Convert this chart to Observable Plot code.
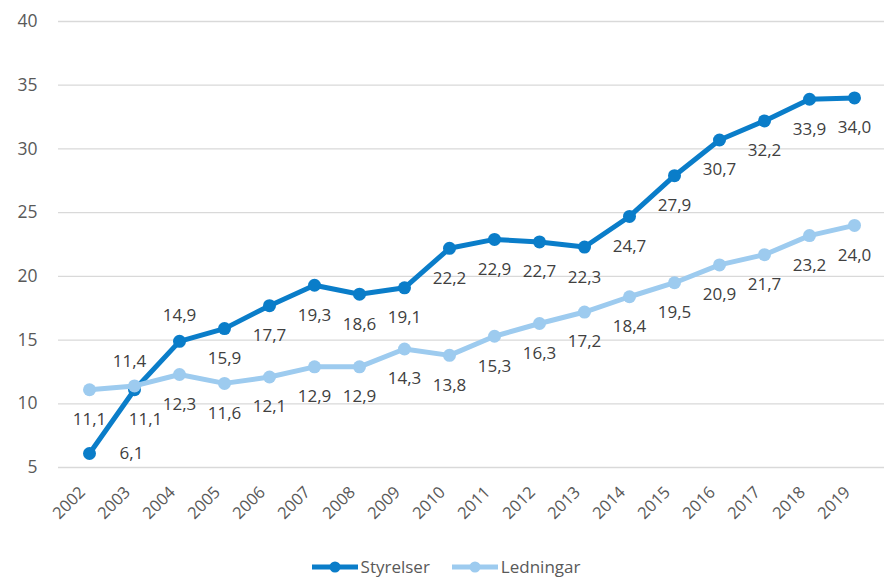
<!DOCTYPE html>
<html>
<head>
<meta charset="utf-8">
<script src="https://cdn.jsdelivr.net/npm/d3@7"></script>
<script src="https://cdn.jsdelivr.net/npm/@observablehq/plot@0.6"></script>
<style>
  html, body { margin: 0; padding: 0; background: #fff; }
  body { width: 884px; font-family: "Open Sans", sans-serif; }
  #chart svg { display: block; }
  #legend { display: flex; justify-content: center; align-items: center; gap: 22px; height: 20px; margin-top: 12px; font-size: 17px; line-height: 20px; color: #595959; padding-left: 8px; }
  #legend .item { display: flex; align-items: center; gap: 3px; }
  #legend svg { display: block; }
</style>
</head>
<body>
<div id="chart"></div>
<div id="legend"></div>
<script>
const years = [2002, 2003, 2004, 2005, 2006, 2007, 2008, 2009, 2010, 2011, 2012, 2013, 2014, 2015, 2016, 2017, 2018, 2019];
const styrelser = [6.1, 11.1, 14.9, 15.9, 17.7, 19.3, 18.6, 19.1, 22.2, 22.9, 22.7, 22.3, 24.7, 27.9, 30.7, 32.2, 33.9, 34.0];
const ledningar = [11.1, 11.4, 12.3, 11.6, 12.1, 12.9, 12.9, 14.3, 13.8, 15.3, 16.3, 17.2, 18.4, 19.5, 20.9, 21.7, 23.2, 24.0];
const seriesNames = ["Styrelser", "Ledningar"];
const seriesColors = ["#0a7dc9", "#9dcbef"];
const yTicks = [5, 10, 15, 20, 25, 30, 35, 40];

const rows = (name, vals) => years.map((y, i) => ({series: name, year: String(y), value: vals[i]}));
const sData = rows("Styrelser", styrelser);
const lData = rows("Ledningar", ledningar);
const all = sData.concat(lData);

const fmt = v => d3.format(".1f")(v).replace(".", ",");
const key = d => d.series + " " + d.year;
const special = new Set(["Ledningar 2003", "Styrelser 2004", "Styrelser 2002", "Styrelser 2003"]);

const colorOpts = {domain: seriesNames, range: seriesColors};
const labelFont = {fontSize: 17, fill: "#404040", text: d => fmt(d.value)};

const plot = Plot.plot({
  width: 884,
  height: 545,
  marginTop: 21,
  marginBottom: 78,
  marginLeft: 58,
  marginRight: 0,
  style: {fontFamily: "'Open Sans', sans-serif", color: "#595959", background: "#fff"},
  x: {type: "point", domain: years.map(String), padding: 0.5, label: null},
  y: {domain: [5, 40], label: null},
  color: colorOpts,
  marks: [
    Plot.ruleY(yTicks, {stroke: "#d9d9d9", strokeWidth: 1.3}),
    Plot.axisY({ticks: yTicks, tickSize: 0, tickPadding: 21, fontSize: 17.5, label: null}),
    Plot.axisX({tickSize: 0, tickRotate: -45, tickPadding: 12, dx: -7, dy: 10, fontSize: 16.5, label: null}),
    Plot.line(sData, {x: "year", y: "value", stroke: "series", strokeWidth: 5}),
    Plot.dot(sData, {x: "year", y: "value", fill: "series", r: 6.5}),
    Plot.line(lData, {x: "year", y: "value", stroke: "series", strokeWidth: 5}),
    Plot.dot(lData, {x: "year", y: "value", fill: "series", r: 6.5}),
    Plot.text(all.filter(d => !special.has(key(d))), {x: "year", y: "value", dy: 30, ...labelFont}),
    Plot.text(all.filter(d => key(d) === "Ledningar 2003"), {x: "year", y: "value", dx: -5, dy: -24, ...labelFont}),
    Plot.text(all.filter(d => key(d) === "Styrelser 2004"), {x: "year", y: "value", dy: -26, ...labelFont}),
    Plot.text(all.filter(d => key(d) === "Styrelser 2002"), {x: "year", y: "value", dx: 42, dy: 0, ...labelFont}),
    Plot.text(all.filter(d => key(d) === "Styrelser 2003"), {x: "year", y: "value", dx: 11, dy: 30, ...labelFont})
  ]
});
document.getElementById("chart").appendChild(plot);

const legend = document.getElementById("legend");
seriesNames.forEach((name, i) => {
  const item = document.createElement("div");
  item.className = "item";
  item.innerHTML = `<svg width="46" height="14"><line x1="0" y1="7" x2="46" y2="7" stroke="${seriesColors[i]}" stroke-width="5"/><circle cx="23" cy="7" r="5.5" fill="${seriesColors[i]}"/></svg><span>${name}</span>`;
  legend.appendChild(item);
});
</script>
</body>
</html>
